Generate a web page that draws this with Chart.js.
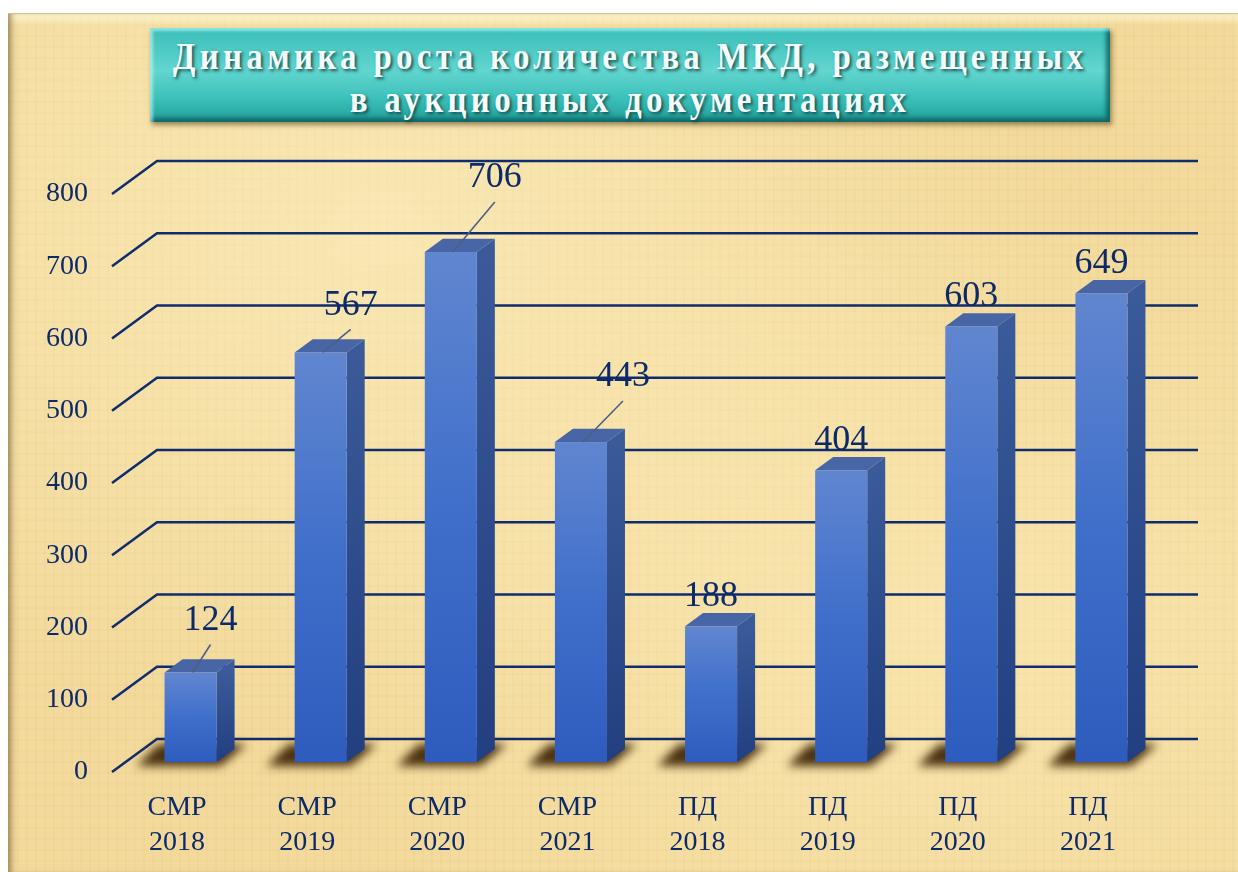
<!DOCTYPE html>
<html>
<head>
<meta charset="utf-8">
<script src="https://cdn.jsdelivr.net/npm/chart.js@4.4.1/dist/chart.umd.min.js"></script>
<style>
  html, body { margin: 0; padding: 0; background: #fff; }
  #frame {
    position: absolute; left: 8px; top: 13px; width: 1230px; height: 859px;
    background:
      radial-gradient(ellipse at 30% 25%, rgba(255,244,200,.55), rgba(255,244,200,0) 55%),
      radial-gradient(ellipse at 75% 70%, rgba(255,240,190,.5), rgba(255,240,190,0) 50%),
      repeating-linear-gradient(90deg, rgba(200,160,80,.07) 0 2px, rgba(255,255,255,0) 2px 9px),
      repeating-linear-gradient(0deg, rgba(200,160,80,.06) 0 2px, rgba(255,255,255,0) 2px 11px),
      #f3da9c;
    box-shadow: inset 6px 0 6px -3px rgba(110,85,40,.65), inset 0 10px 8px -5px rgba(255,250,215,.95);
    border-top: 1px solid #d8c08a;
  }
  #title {
    position: absolute; left: 150px; top: 28px; width: 960px; height: 94px;
    background: linear-gradient(180deg, #39bdb8 0%, #62d6cf 45%, #3cc0ba 75%, #1f9e9a 100%);
    box-shadow: inset 3px 3px 3px rgba(200,255,250,.6), inset -4px -4px 4px rgba(10,90,90,.8), 2px 3px 5px rgba(90,70,30,.6);
    color: #f4fbfb; font-family: "Liberation Serif", serif; font-weight: bold;
    font-size: 33px; letter-spacing: 4.3px; text-align: center;
    text-shadow: 2px 2px 3px rgba(15,70,70,.9);
  }
  #title span {
    position: absolute; left: 0; width: 100%; line-height: 40px;
    transform: scaleY(1.18);
  }
  #wrap { position: absolute; left: 0; top: 0; }
</style>
</head>
<body>
<div id="frame"></div>
<div id="title"><span style="top:8px">Динамика роста количества МКД, размещенных</span><span style="top:51px">в аукционных документациях</span></div>
<div id="wrap"><canvas id="chart" width="1238" height="872"></canvas></div>
<script>
const categories = [['СМР', '2018'], ['СМР', '2019'], ['СМР', '2020'], ['СМР', '2021'],
                    ['ПД', '2018'], ['ПД', '2019'], ['ПД', '2020'], ['ПД', '2021']];
const mkdCounts = [124, 567, 706, 443, 188, 404, 603, 649];
const yMin = 0, yMax = 800, yStep = 100;

const NAVY = '#0c2a6a';
const DX = 45, DY = -33;      // full depth of the floor/back wall
const F1 = 0.3, F2 = 0.7;     // depth of bar front and back faces

// label nudges for the bars whose label sits off to the side with a leader
const labelNudge = [[20, -52], [30, -47], [44, -74], [42, -65], null, null, null, null];

const bars3d = {
    id: 'bars3d',
    beforeDatasetsDraw(chart) {
        const ctx = chart.ctx;
        const area = chart.chartArea;
        const ys = chart.scales.y;
        ctx.save();
        // perspective gridlines
        ctx.strokeStyle = '#0f2c6e';
        ctx.lineWidth = 2.5;
        ys.ticks.forEach(t => {
            const y = ys.getPixelForValue(t.value);
            ctx.beginPath();
            ctx.moveTo(area.left, y);
            ctx.lineTo(area.left + DX, y + DY);
            ctx.lineTo(area.right + DX, y + DY);
            ctx.stroke();
        });

        const meta = chart.getDatasetMeta(0);
        // shadows on the floor
        ctx.filter = 'blur(5px)';
        ctx.fillStyle = 'rgba(65,40,8,0.95)';
        meta.data.forEach(el => {
            const w = el.width;
            const x0 = el.x - w / 2 + DX * F1;
            const b = el.base + DY * F1;
            ctx.beginPath();
            ctx.moveTo(x0 - 28, b + 4);
            ctx.lineTo(x0 + w + 4, b + 4);
            ctx.lineTo(x0 + w + 30, b - 18);
            ctx.lineTo(x0 - 6, b - 18);
            ctx.closePath();
            ctx.fill();
        });
        ctx.filter = 'none';

        // 3d boxes
        const ddx = DX * (F2 - F1), ddy = DY * (F2 - F1);
        meta.data.forEach(el => {
            const w = el.width;
            const x0 = el.x - w / 2 + DX * F1;
            const top = el.y + DY * F1;
            const bot = el.base + DY * F1;

            const side = ctx.createLinearGradient(0, top, 0, bot);
            side.addColorStop(0, '#3a5a9a');
            side.addColorStop(1, '#223f80');
            ctx.fillStyle = side;
            ctx.beginPath();
            ctx.moveTo(x0 + w, top);
            ctx.lineTo(x0 + w + ddx, top + ddy);
            ctx.lineTo(x0 + w + ddx, bot + ddy);
            ctx.lineTo(x0 + w, bot);
            ctx.closePath();
            ctx.fill();

            ctx.fillStyle = '#4865a6';
            ctx.beginPath();
            ctx.moveTo(x0, top);
            ctx.lineTo(x0 + w, top);
            ctx.lineTo(x0 + w + ddx, top + ddy);
            ctx.lineTo(x0 + ddx, top + ddy);
            ctx.closePath();
            ctx.fill();

            const front = ctx.createLinearGradient(0, top, 0, bot);
            front.addColorStop(0, '#6186d0');
            front.addColorStop(0.5, '#3f6fca');
            front.addColorStop(1, '#2e5cbe');
            ctx.fillStyle = front;
            ctx.fillRect(x0, top, w, bot - top);
        });
        ctx.restore();
    },
    afterDatasetsDraw(chart) {
        const ctx = chart.ctx;
        const meta = chart.getDatasetMeta(0);
        ctx.save();
        ctx.font = '36px "Liberation Serif"';
        ctx.textAlign = 'center';
        ctx.textBaseline = 'middle';
        meta.data.forEach((el, i) => {
            const cx = el.x + DX * F1;
            const top = el.y + DY * F1;
            const n = labelNudge[i];
            let lx = cx, ly = top - 30;
            if (n) {
                lx = cx + n[0];
                ly = top + n[1];
                ctx.strokeStyle = '#4b5f88';
                ctx.lineWidth = 1.6;
                ctx.beginPath();
                ctx.moveTo(cx + 2, top);
                ctx.lineTo(lx, ly + 24);
                ctx.stroke();
            }
            ctx.fillStyle = NAVY;
            ctx.fillText(String(mkdCounts[i]), lx, ly);
        });
        ctx.restore();
    }
};

new Chart(document.getElementById('chart').getContext('2d'), {
    type: 'bar',
    data: {
        labels: categories,
        datasets: [{
            data: mkdCounts,
            backgroundColor: 'rgba(0,0,0,0)',
            barPercentage: 0.4,
            categoryPercentage: 1
        }]
    },
    options: {
        responsive: false,
        animation: false,
        layout: { padding: { left: 0, right: 85, top: 194, bottom: 0 } },
        plugins: { legend: { display: false }, tooltip: { enabled: false } },
        scales: {
            x: {
                grid: { display: false, drawTicks: false },
                border: { display: false },
                ticks: {
                    color: NAVY, padding: 19, maxRotation: 0, autoSkip: false,
                    font: { family: 'Liberation Serif', size: 28, lineHeight: 1.22 }
                },
                afterFit(s) { s.height = 100; }
            },
            y: {
                min: yMin, max: yMax,
                grid: { display: false, drawTicks: false },
                border: { display: false },
                ticks: {
                    stepSize: yStep, color: NAVY, padding: 24,
                    font: { family: 'Liberation Serif', size: 28 }
                },
                afterFit(s) { s.width = 112; }
            }
        }
    },
    plugins: [bars3d]
});
</script>
</body>
</html>
